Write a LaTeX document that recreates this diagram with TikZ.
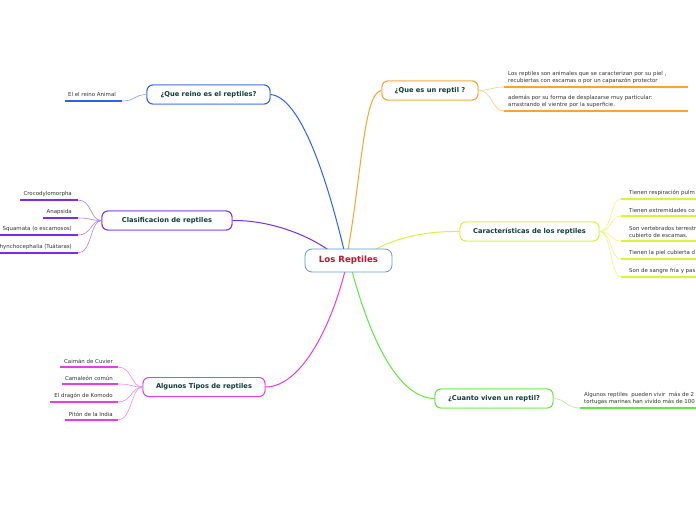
\documentclass[tikz,border=0pt]{standalone}
\usepackage{fontspec}
\setmainfont{DejaVu Sans}
\definecolor{cblue}{HTML}{2A62F5}
\definecolor{corange}{HTML}{FBA42C}
\definecolor{cpurple}{HTML}{7A2CF0}
\definecolor{cyellow}{HTML}{D6F536}
\definecolor{cmag}{HTML}{E63CEB}
\definecolor{cgreen}{HTML}{5FEB3E}
\definecolor{cteal}{HTML}{0E3D3A}
\definecolor{ccent}{HTML}{C41230}
\definecolor{ccentb}{HTML}{5B9BD5}
\definecolor{ctxt}{HTML}{333333}
\tikzset{
  branch/.style={draw=#1, line width=0.9pt, rounded corners=6pt, fill=white, minimum height=19pt, inner sep=1pt, font=\bfseries\fontsize{6.7}{8}\selectfont, text=cteal},
  central/.style={draw=ccentb, line width=0.8pt, rounded corners=7pt, fill=white, minimum width=87pt, minimum height=23pt, font=\bfseries\fontsize{8.6}{10}\selectfont, text=ccent},
  leaf/.style={font=\fontsize{5.45}{6.8}\selectfont, text=ctxt, inner sep=0pt, align=left},
  uline/.style={draw=#1, line width=1.6pt},
  conn/.style={draw=#1, line width=1pt},
  lconn/.style={draw=#1!60, line width=0.6pt}
}
\begin{document}
\begin{tikzpicture}[x=1pt,y=-1pt]
\useasboundingbox (0,0) rectangle (696,520);
\clip (0,0) rectangle (696,520);
\fill[white] (0,0) rectangle (696,520);

\coordinate (cN1) at (344,250);
\coordinate (cN2) at (348,250);
\coordinate (cNW) at (330,251);
\coordinate (cNE) at (374,250);
\coordinate (cS1) at (345,271);
\coordinate (cS2) at (352,271);

\node[branch=cblue, minimum width=123pt] (b1) at (208.5,94.5) {¿Que reino es el reptiles?};
\node[branch=corange, minimum width=96pt] (b2) at (430,90.5) {¿Que es un reptil ?};
\node[branch=cpurple, minimum width=130pt] (b3) at (167,220.5) {Clasificacion de reptiles};
\node[branch=cyellow, minimum width=139pt] (b4) at (529.5,231.5) {Características de los reptiles};
\node[branch=cmag, minimum width=122pt] (b5) at (204,387) {Algunos Tipos de reptiles};
\node[branch=cgreen, minimum width=118pt] (b6) at (494,398.5) {¿Cuanto viven un reptil?};

\draw[conn=cblue] (cN1) .. controls (326,175) and (300,97) .. (b1.east);
\draw[conn=corange] (cN2) .. controls (362,170) and (364,92) .. (b2.west);
\draw[conn=cpurple] (cNW) .. controls (300,230) and (262,220) .. (b3.east);
\draw[conn=cyellow] (cNE) .. controls (400,236) and (430,231) .. (b4.west);
\draw[conn=cmag] (cS1) .. controls (330,330) and (300,387) .. (b5.east);
\draw[conn=cgreen] (cS2) .. controls (372,345) and (400,398) .. (b6.west);

% redraw branch nodes on top of connectors
\node[branch=cblue, minimum width=123pt] at (208.5,94.5) {¿Que reino es el reptiles?};
\node[branch=corange, minimum width=96pt] at (430,90.5) {¿Que es un reptil ?};
\node[branch=cpurple, minimum width=130pt] at (167,220.5) {Clasificacion de reptiles};
\node[branch=cyellow, minimum width=139pt] at (529.5,231.5) {Características de los reptiles};
\node[branch=cmag, minimum width=122pt] at (204,387) {Algunos Tipos de reptiles};
\node[branch=cgreen, minimum width=118pt] at (494,398.5) {¿Cuanto viven un reptil?};

\node[central] (c) at (348.5,260.5) {Los Reptiles};

% ---- blue leaf
\coordinate (u1a) at (65,101); \coordinate (u1b) at (122,101);
\draw[uline=cblue] (u1a) -- (u1b);
\node[leaf, anchor=south west] (t1) at (68,97) {El el reino Animal};
\draw[lconn=cblue] (b1.west) .. controls (133,95) and (136,101) .. (u1b);

% ---- orange leaves
\coordinate (o1a) at (504,87); \coordinate (o1b) at (688,87);
\coordinate (o2a) at (504,111); \coordinate (o2b) at (688,111);
\draw[uline=corange] (o1a) -- (o1b);
\draw[uline=corange] (o2a) -- (o2b);
\node[leaf, anchor=south west] (t2) at (508,83.5) {Los reptiles son animales que se caracterizan por su piel ,\\recubiertas con escamas o por un caparazón protector};
\node[leaf, anchor=south west] (t3) at (508,107.5) {además por su forma de desplazarse muy particular:\\arrastrando el vientre por la superficie.};
\draw[lconn=corange] (b2.east) .. controls (492,90) and (492,87) .. (o1a);
\draw[lconn=corange] (b2.east) .. controls (492,90) and (492,111) .. (o2a);

% ---- yellow leaves
\coordinate (y1) at (621,199); \coordinate (y2) at (621,216);
\coordinate (y3) at (621,241); \coordinate (y4) at (621,259);
\coordinate (y5) at (621,277);
\foreach \p in {y1,y2,y3,y4,y5}{\draw[uline=cyellow] (\p) -- ++(80,0);}
\node[leaf, anchor=south west] (t4) at (629,195.5) {Tienen respiración pulm};
\node[leaf, anchor=south west] (t5) at (629,212.5) {Tienen extremidades co};
\node[leaf, anchor=south west] (t6) at (629,237.5) {Son vertebrados terrestr\\cubierto de escamas.};
\node[leaf, anchor=south west] (t7) at (629,255.5) {Tienen la piel cubierta d};
\node[leaf, anchor=south west] (t8) at (629,273.5) {Son de sangre fría y pas};
\foreach \p in {y1,y2,y3,y4,y5}{\draw[lconn=cyellow] (b4.east) .. controls (612,231.5) and (610,0|-\p) .. (\p);}

% ---- green leaf
\coordinate (g1) at (580,408);
\draw[uline=cgreen] (g1) -- (700,408);
\node[leaf, anchor=south west] (t9) at (584,404.5) {Algunos reptiles\ \ pueden vivir\ \ más de 2\\tortugas marinas han vivido más de 100};
\draw[lconn=cgreen] (b6.east) .. controls (566,399) and (566,408) .. (g1);

% ---- purple leaves
\coordinate (p1) at (78,200); \coordinate (p2) at (78,218);
\coordinate (p3) at (78,235); \coordinate (p4) at (78,253);
\draw[uline=cpurple] (20,200) -- (p1);
\draw[uline=cpurple] (43,218) -- (p2);
\draw[uline=cpurple] (-2,235) -- (p3);
\draw[uline=cpurple] (-2,253) -- (p4);
\node[leaf, anchor=south east] (t10) at (72,196.5) {Crocodylomorpha};
\node[leaf, anchor=south east] (t11) at (72,214.5) {Anapsida};
\node[leaf, anchor=south east] (t12) at (72,231.5) {Squamata (o escamosos)};
\node[leaf, anchor=south east] (t13) at (72,249.5) {Rhynchocephalia (Tuátaras)};
\foreach \p in {p1,p2,p3,p4}{\draw[lconn=cpurple] (b3.west) .. controls (90,220.5) and (92,0|-\p) .. (\p);}

% ---- magenta leaves
\coordinate (m1) at (118,367); \coordinate (m2) at (118,384);
\coordinate (m3) at (118,402); \coordinate (m4) at (118,420);
\draw[uline=cmag] (60,367) -- (m1);
\draw[uline=cmag] (62,384) -- (m2);
\draw[uline=cmag] (50,402) -- (m3);
\draw[uline=cmag] (65,420) -- (m4);
\node[leaf, anchor=south east] (t14) at (113,363.5) {Caimán de Cuvier};
\node[leaf, anchor=south east] (t15) at (113,380.5) {Camaleón común};
\node[leaf, anchor=south east] (t16) at (113,398.5) {El dragón de Komodo};
\node[leaf, anchor=south east] (t17) at (113,416.5) {Pitón de la India};
\foreach \p in {m1,m2,m3,m4}{\draw[lconn=cmag] (b5.west) .. controls (131,387) and (132,0|-\p) .. (\p);}
\end{tikzpicture}
\end{document}
